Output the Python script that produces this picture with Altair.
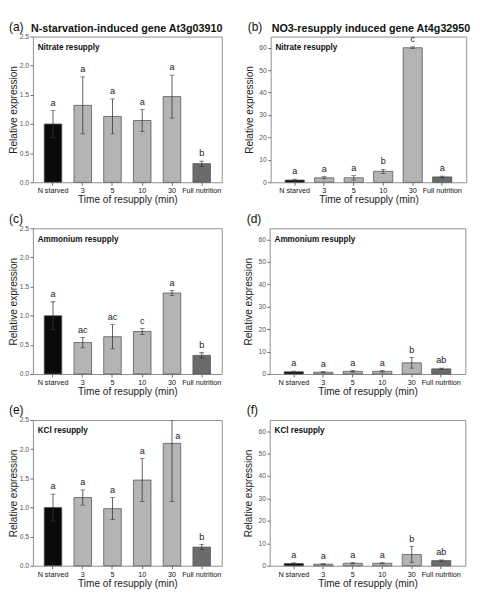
import altair as alt
import pandas as pd

categories = ["N starved", "3", "5", "10", "30", "Full nutrition"]
groups = ["starved", "resupply", "resupply", "resupply", "resupply", "full"]
group_names = ["starved", "resupply", "full"]
group_colors = ["#0a0a0a", "#b4b4b4", "#6b6b6b"]

# (a) N-starvation-induced gene, nitrate resupply
a_mean = [1.00, 1.32, 1.13, 1.06, 1.47, 0.32]
a_err = [0.23, 0.49, 0.30, 0.19, 0.37, 0.045]
a_let = ["a", "a", "a", "a", "a", "b"]
# (b) NO3-resupply induced gene, nitrate resupply
b_mean = [1.0, 2.0, 2.0, 4.9, 60.0, 2.4]
b_err = [0.4, 0.5, 1.0, 0.9, 0.4, 0.4]
b_let = ["a", "a", "a", "b", "c", "a"]
# (c) ammonium resupply
c_mean = [1.00, 0.54, 0.64, 0.73, 1.39, 0.32]
c_err = [0.24, 0.09, 0.21, 0.05, 0.045, 0.045]
c_let = ["a", "ac", "ac", "c", "a", "b"]
# (d) ammonium resupply
d_mean = [1.0, 0.8, 1.2, 1.2, 5.0, 2.3]
d_err = [0.3, 0.3, 0.3, 0.4, 2.4, 0.3]
d_let = ["a", "a", "a", "a", "b", "ab"]
# (e) KCl resupply
e_mean = [1.00, 1.17, 0.98, 1.47, 2.10, 0.32]
e_err = [0.23, 0.13, 0.19, 0.37, 1.00, 0.045]
e_let = ["a", "a", "a", "a", "a", "b"]
# (f) KCl resupply
f_mean = [1.0, 0.7, 1.1, 1.1, 5.0, 2.3]
f_err = [0.3, 0.2, 0.3, 0.3, 3.6, 0.3]
f_let = ["a", "a", "a", "a", "b", "ab"]

left_ticks = [0.0, 0.5, 1.0, 1.5, 2.0, 2.5]
right_ticks = [0, 10, 20, 30, 40, 50, 60]

FONT = "Liberation Sans"


def panel(mean, err, letters, label, tag, gene, left):
    ymax = 2.5 if left else 65
    ticks = left_ticks if left else right_ticks
    fmt = ".1f" if left else "d"
    width = 197 if left else 204
    height = 152
    hi = [m + e for m, e in zip(mean, err)]
    lo = [m - e for m, e in zip(mean, err)]
    df = pd.DataFrame({"cat": categories, "grp": groups, "mean": mean,
                       "lo": lo, "hi": hi, "letter": letters})
    xscale = alt.Scale(paddingInner=0.41 if left else 0.35,
                       paddingOuter=0.38 if left else 0.49)
    xaxis = alt.Axis(title="Time of resupply (min)", labelAngle=0,
                     labelFontSize=7.5, labelColor="#111", tickSize=3,
                     tickColor="#666", domain=False, labelPadding=2,
                     labelOverlap=False, labelLimit=0,
                     titleFontSize=10.5, titleFontWeight="normal",
                     titleColor="#222", titlePadding=1, labelFont=FONT,
                     titleFont=FONT)
    yscale = alt.Scale(domain=[0, ymax], nice=False, zero=True)
    yaxis = alt.Axis(values=ticks, format=fmt, title="Relative expression",
                     grid=False, domain=False, tickSize=3, tickColor="#666",
                     labelFontSize=7, labelColor="#555", labelPadding=1.5,
                     labelOverlap=False,
                     titleFontSize=10.5, titleFontWeight="normal",
                     titleColor="#222", labelFont=FONT, titleFont=FONT,
                     minExtent=15 if left else 14, maxExtent=15 if left else 14,
                     titlePadding=0 if left else 3)

    def X():
        return alt.X("cat:N", sort=categories, scale=xscale, axis=xaxis)

    def Y(field):
        return alt.Y(field, scale=yscale, axis=yaxis, title="Relative expression")

    base = alt.Chart(df)
    bars = base.mark_bar(stroke="#555", strokeWidth=0.8).encode(
        x=X(), y=Y("mean:Q"),
        color=alt.Color("grp:N", scale=alt.Scale(domain=group_names, range=group_colors),
                        legend=None))
    rule = base.mark_rule(color="#333", strokeWidth=0.8, clip=True).encode(
        x=X(), y=Y("lo:Q"), y2="hi:Q")
    cap_hi = base.mark_tick(color="#333", size=5, thickness=0.8, clip=True).encode(
        x=X(), y=Y("hi:Q"))
    cap_lo = base.mark_tick(color="#333", size=5, thickness=0.8, clip=True).encode(
        x=X(), y=Y("lo:Q"))
    lets = base.transform_filter(alt.datum.hi <= ymax).mark_text(
        baseline="bottom", dy=-3, fontSize=9.5, color="#222", font=FONT).encode(
        x=X(), y=Y("hi:Q"), text="letter:N")
    lets_clip = base.transform_filter(alt.datum.hi > ymax).mark_text(
        baseline="bottom", dy=-3, dx=6, fontSize=9.5, color="#222", font=FONT).encode(
        x=X(), y=Y("mean:Q"), text="letter:N")
    inner = alt.Chart(pd.DataFrame({"t": [label]})).mark_text(
        align="left", baseline="top", fontWeight="bold", fontSize=8.5, font=FONT,
        color="#111").encode(x=alt.value(5), y=alt.value(7), text="t:N")
    tagc = alt.Chart(pd.DataFrame({"t": [tag]})).mark_text(
        align="left", baseline="alphabetic", fontSize=12.5, font=FONT, color="#111").encode(
        x=alt.value(-25 if left else -24), y=alt.value(-6), text="t:N")
    layers = [bars, rule, cap_hi, cap_lo, lets, lets_clip, inner, tagc]
    if gene:
        g = alt.Chart(pd.DataFrame({"t": [gene]})).mark_text(
            align="left", baseline="alphabetic", fontSize=11.2, fontWeight="bold",
            font=FONT, color="#111").encode(
            x=alt.value(-2 if left else 1), y=alt.value(-5), text="t:N")
        layers.append(g)
    return alt.layer(*layers).properties(width=width, height=height)


pa = panel(a_mean, a_err, a_let, "Nitrate resupply", "(a)",
           "N-starvation-induced gene At3g03910", True)
pb = panel(b_mean, b_err, b_let, "Nitrate resupply", "(b)",
           "NO3-resupply induced gene At4g32950", False)
pc = panel(c_mean, c_err, c_let, "Ammonium resupply", "(c)", None, True)
pd_ = panel(d_mean, d_err, d_let, "Ammonium resupply", "(d)", None, False)
pe = panel(e_mean, e_err, e_let, "KCl resupply", "(e)", None, True)
pf = panel(f_mean, f_err, f_let, "KCl resupply", "(f)", None, False)

chart = alt.vconcat(
    alt.hconcat(pa, pb, spacing=21),
    alt.hconcat(pc, pd_, spacing=21),
    alt.hconcat(pe, pf, spacing=21),
    spacing=6,
).properties(padding=0).configure_view(stroke="#8c8c8c", strokeWidth=1)

chart.save("out.html", embed_options={"renderer": "svg", "actions": False})
